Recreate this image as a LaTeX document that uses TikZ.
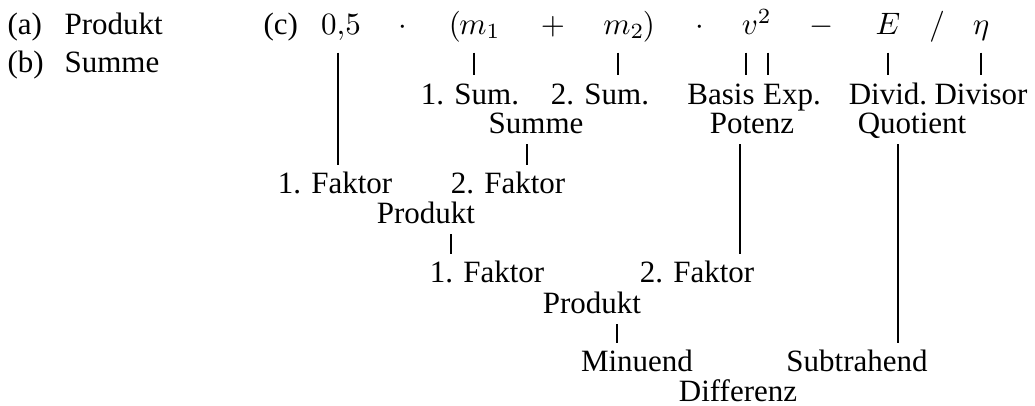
\documentclass[tikz,border=0pt]{standalone}
\usepackage[no-math]{fontspec}
\setmainfont{Liberation Serif}
\usepackage{amsmath}
\usetikzlibrary{calc}
\tikzset{
  term/.style = {anchor=base, inner sep=0pt, text depth=5.8pt},
  lab/.style  = {anchor=base, inner sep=0pt, text height=9pt, text depth=3.4pt},
  item/.style = {anchor=base west, inner sep=0pt},
  tick/.style = {line width=0.65pt},
}
\begin{document}
\begin{tikzpicture}[x=0.3226pt,y=-0.3226pt]
  \useasboundingbox (0,0) rectangle (1035,405);
  \node[item] (ia) at (7,34) {(a)};
  \node[item] (ta) at (64,34) {Produkt};
  \node[item] (ib) at (7,72) {(b)};
  \node[item] (tb) at (64,72) {Summe};
  \node[item] (ic) at (263,34) {(c)};
  \foreach \nm/\px/\tx in {half/341/{0{,}5}, dotA/403/{\cdot}, lpar/455/{(}, m1/480/{m_1},
      plus/553/{+}, m2/624/{m_2}, rpar/649/{)}, dotB/700/{\cdot}, v/750/{v},
      minus/822/{-}, E/888/{E}, slash/937/{/}, eta/981/{\eta}}{
    \node[term] (\nm) at (\px,34) {$\tx$};}
  \node[term] (sq) at (764,23) {$\scriptstyle 2$};
  \foreach \nm/\px/\py/\tx in {sum1/470/104/{1. Sum.}, sum2/600/104/{2. Sum.},
      basis/721/104/{Basis}, expo/792/104/{Exp.}, divd/888/104/{Divid.}, divs/981/104/{Divisor},
      summe/536/133/{Summe}, potenz/752/133/{Potenz}, quot/912/133/{Quotient},
      fak1/335/193/{1. Faktor}, fak2/508/193/{2. Faktor}, prod1/426/223/{Produkt},
      fak3/487/282/{1. Faktor}, fak4/697/282/{2. Faktor}, prod2/592/313/{Produkt},
      minu/637/371/{Minuend}, subt/857/371/{Subtrahend}, diff/738/401/{Differenz}}{
    \node[lab] (\nm) at (\px,\py) {\tx};}
  \foreach \a/\b/\s in {half/fak1/-1pt, m1/sum1/-2pt, m2/sum2/-2pt, v/basis/-1.3pt,
      E/divd/0pt, eta/divs/0pt, summe/fak2/-2.8pt, potenz/fak4/-3.9pt, quot/subt/-4.6pt,
      prod1/fak3/8.1pt, prod2/minu/8.1pt}
    \draw[tick] ([xshift=\s]\a.south) -- ([xshift=\s]\a.south |- \b.north);
  \draw[tick] ([xshift=1.3pt]sq |- v.south) -- ([xshift=1.3pt]sq |- expo.north);
\end{tikzpicture}
\end{document}
